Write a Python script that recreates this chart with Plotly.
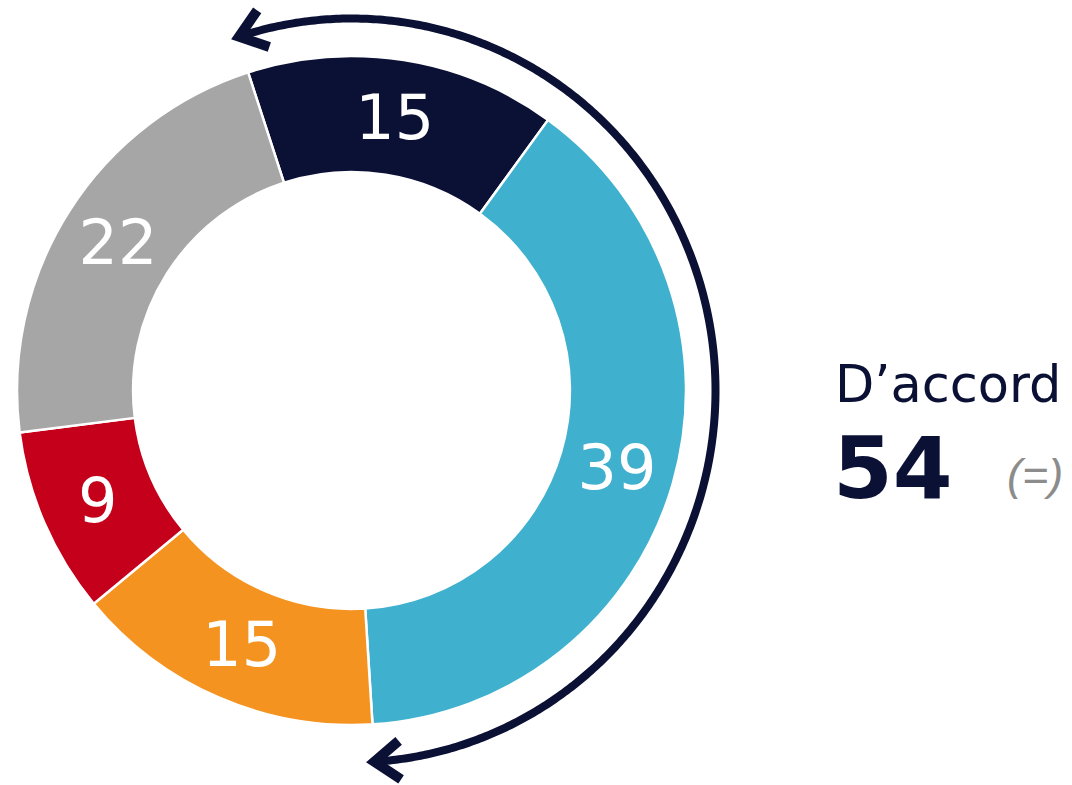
import numpy as np
import plotly.graph_objects as go

# ---- data ----
categories = ["Tout à fait d'accord", "Plutôt d'accord", "Plutôt pas d'accord", "Pas du tout d'accord", "Ne se prononce pas"]
values = [15, 39, 15, 9, 22]
colors = ["#0B1035", "#3FB0CD", "#F59320", "#C5001A", "#A6A6A6"]
agree_label = "D’accord"
agree_value = values[0] + values[1]
evolution_label = "(=)"

NAVY = "#0B1035"
W, H = 1072, 785
ROTATION = -18

fig = go.Figure()

# pie geometry in pixels
cx, cy, R = 351.5, 390.5, 334.5
fig.add_trace(go.Pie(
    labels=categories, values=values, sort=False, direction="clockwise",
    rotation=ROTATION, hole=0.653,
    marker=dict(colors=colors, line=dict(color="white", width=2.5)),
    textinfo="value", textposition="inside", insidetextorientation="horizontal",
    textfont=dict(family="DejaVu Sans", size=62, color="white"),
    domain=dict(x=[(cx - R) / W, (cx + R) / W], y=[(H - cy - R) / H, (H - cy + R) / H]),
    showlegend=False, hoverinfo="skip",
))

# arrow arc spanning the "agree" slices
rx, ry = 364, 372
a0 = np.deg2rad(ROTATION)
a1 = np.deg2rad(ROTATION + 360 * agree_value / sum(values))
t = np.linspace(a0, a1, 400)
fig.add_trace(go.Scatter(x=cx + rx * np.sin(t), y=cy - ry * np.cos(t), mode="lines",
                         line=dict(color=NAVY, width=8, simplify=False),
                         hoverinfo="skip", showlegend=False))


def head(theta, sign):
    tip = np.array([cx + rx * np.sin(theta), cy - ry * np.cos(theta)])
    tan = np.array([rx * np.cos(theta), ry * np.sin(theta)])
    tan = tan / np.linalg.norm(tan)
    back = tan * sign  # direction from tip back along the shaft
    L, ang = 32, np.deg2rad(37)
    pts = []
    for s in (1, -1):
        c, sn = np.cos(s * ang), np.sin(s * ang)
        d = np.array([back[0] * c - back[1] * sn, back[0] * sn + back[1] * c])
        pts.append(tip + L * d)
    xs = [pts[0][0], tip[0], pts[1][0]]
    ys = [pts[0][1], tip[1], pts[1][1]]
    fig.add_trace(go.Scatter(x=xs, y=ys, mode="lines", line=dict(color=NAVY, width=10, simplify=False),
                             hoverinfo="skip", showlegend=False))


head(a0, 1)
head(a1, -1)

fig.add_annotation(x=833, y=384, xref="x", yref="y", text=agree_label, showarrow=False,
                   xanchor="left", yanchor="middle",
                   font=dict(family="DejaVu Sans", size=51, color=NAVY))
fig.add_annotation(x=831, y=468, xref="x", yref="y", text=f"<b>{agree_value}</b>", showarrow=False,
                   xanchor="left", yanchor="middle",
                   font=dict(family="DejaVu Sans", size=86, color=NAVY))
fig.add_annotation(x=1005, y=474, xref="x", yref="y", text=f"<i>{evolution_label}</i>", showarrow=False,
                   xanchor="left", yanchor="middle",
                   font=dict(family="Liberation Sans", size=45, color="#8C8C8C"))

fig.update_layout(
    width=W, height=H, margin=dict(l=0, r=0, t=0, b=0),
    paper_bgcolor="white", plot_bgcolor="rgba(0,0,0,0)",
    xaxis=dict(range=[0, W], visible=False, domain=[0, 1], fixedrange=True),
    yaxis=dict(range=[H, 0], visible=False, domain=[0, 1], fixedrange=True),
    showlegend=False,
)

fig.write_html("out.html", config={"displayModeBar": False},
               post_script="document.body.style.margin='0';")
